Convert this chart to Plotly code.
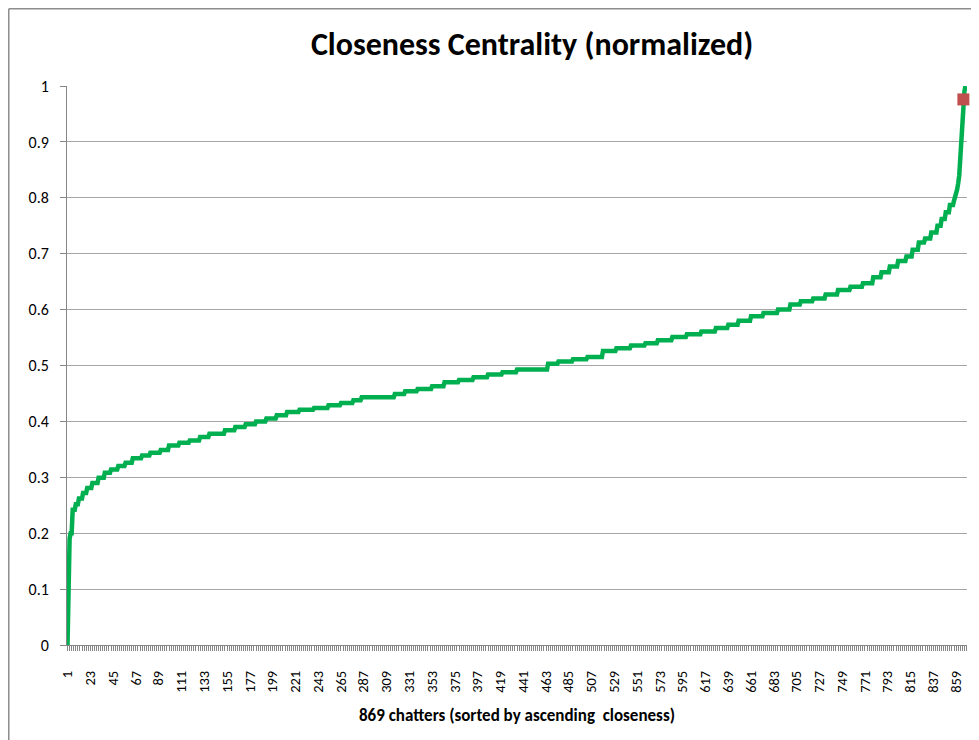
import plotly.graph_objects as go

# Distinct closeness levels (sorted ascending) and how many chatters share each level
closeness_levels = [
    0.0, 0.186, 0.19, 0.2, 0.242, 0.252, 0.262, 0.272, 0.281, 0.29,
    0.299, 0.308, 0.314, 0.32, 0.326, 0.334, 0.339, 0.344, 0.349, 0.357,
    0.362, 0.366, 0.372, 0.378, 0.384, 0.39, 0.395, 0.4, 0.405, 0.411,
    0.417, 0.421, 0.424, 0.429, 0.433, 0.438, 0.443, 0.449, 0.454, 0.458,
    0.463, 0.47, 0.474, 0.479, 0.484, 0.488, 0.493, 0.503, 0.507, 0.511,
    0.515, 0.526, 0.531, 0.536, 0.54, 0.545, 0.551, 0.556, 0.561, 0.567,
    0.573, 0.58, 0.588, 0.594, 0.6, 0.609, 0.615, 0.62, 0.627, 0.635,
    0.641, 0.647, 0.658, 0.667, 0.677, 0.687, 0.695, 0.707, 0.72, 0.727,
    0.738, 0.75, 0.762, 0.774, 0.787, 0.795, 0.8, 0.805, 0.815, 0.826,
    0.84, 0.87, 0.905, 0.94, 0.976, 0.99, 1.0, 1.0,
]
chatter_counts = [
    1, 1, 1, 2, 3, 3, 4, 4, 5, 6,
    6, 6, 7, 7, 7, 9, 8, 10, 8, 10,
    10, 10, 9, 15, 10, 10, 10, 10, 10, 10,
    12, 14, 14, 12, 12, 8, 32, 10, 12, 14,
    12, 14, 14, 14, 14, 14, 30, 10, 14, 14,
    15, 13, 14, 14, 12, 14, 14, 14, 14, 12,
    10, 12, 12, 14, 12, 10, 12, 12, 12, 12,
    12, 10, 8, 8, 8, 8, 6, 6, 6, 6,
    6, 4, 4, 4, 4, 1, 1, 1, 1, 1,
    1, 1, 1, 1, 1, 1, 1, 1,
]

# Highlighted chatter
highlight_rank = [866]
highlight_value = [0.976]

tick_labels = [str(v) for v in range(1, 870, 22)]

closeness = []
for lvl, cnt in zip(closeness_levels, chatter_counts):
    closeness.extend([lvl] * cnt)
ranks = list(range(1, len(closeness) + 1))

FONT = "Carlito, Calibri, Lato, sans-serif"
GRID = "#A6A6A6"
AXIS = "#868686"

fig = go.Figure()
fig.add_trace(go.Scatter(
    x=ranks, y=closeness, mode="lines",
    line=dict(color="#00B050", width=4.5),
    showlegend=False, hoverinfo="x+y",
))
fig.add_trace(go.Scatter(
    x=highlight_rank, y=highlight_value, mode="markers",
    marker=dict(symbol="square", size=12, color="#C0504D"),
    cliponaxis=False, showlegend=False,
))

fig.update_layout(
    width=971, height=732,
    margin=dict(l=59, r=12, t=78, b=95),
    paper_bgcolor="white", plot_bgcolor="white",
    font=dict(family=FONT, size=16, color="#000000"),
    title=dict(
        text="<b>Closeness Centrality (normalized)</b>",
        font=dict(family=FONT, size=32, color="#000000"),
        x=(532 - 8) / 971, xref="container", xanchor="center",
        y=1 - (44 - 8) / 732, yref="container", yanchor="middle",
    ),
    xaxis=dict(
        range=[0.5, 869.5],
        tickmode="array", tickvals=[int(t) for t in tick_labels], ticktext=tick_labels,
        tickangle=-90,
        ticks="outside", ticklen=5, tickcolor=AXIS, tickwidth=1,
        minor=dict(tickmode="linear", tick0=1, dtick=2, ticks="outside",
                   ticklen=5, tickcolor=AXIS, tickwidth=1, showgrid=False),
        showline=True, linecolor=AXIS, linewidth=1,
        showgrid=False, zeroline=False,
        tickfont=dict(family=FONT, size=14.5, color="#000000"),
        ticklabelstandoff=14,
    ),
    yaxis=dict(
        range=[0, 1], dtick=0.1, tick0=0,
        ticks="outside", ticklen=6, tickcolor=AXIS, tickwidth=1,
        showline=True, linecolor=AXIS, linewidth=1,
        showgrid=True, gridcolor=GRID, gridwidth=1,
        zeroline=False,
        tickfont=dict(family=FONT, size=16, color="#000000"),
        ticklabelstandoff=8,
    ),
    annotations=[dict(
        text="<b>869 chatters (sorted by ascending  closeness)</b>",
        xref="paper", yref="paper", x=0.5, y=-0.127,
        xanchor="center", yanchor="middle", showarrow=False,
        font=dict(family=FONT, size=17, color="#000000"),
    )],
    shapes=[
        dict(type="line", xref="paper", yref="paper",
             x0=-0.0647, x1=1.3, y0=1.1382, y1=1.1382,
             line=dict(color="#8C8C8C", width=1.5)),
        dict(type="line", xref="paper", yref="paper",
             x0=-0.0647, x1=-0.0647, y0=-0.4, y1=1.1382,
             line=dict(color="#8C8C8C", width=1.5)),
    ],
)

fig.write_html("out.html")
